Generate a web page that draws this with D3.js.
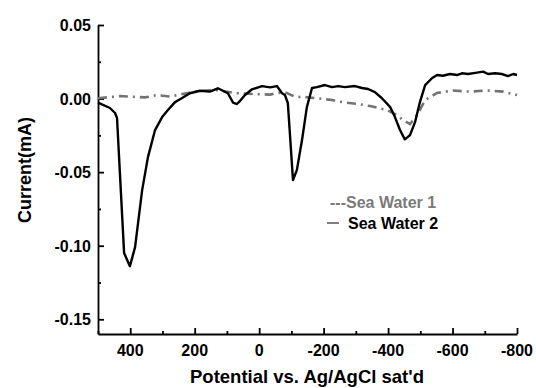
<!DOCTYPE html>
<html>
<head>
<meta charset="utf-8">
<script src="https://cdn.jsdelivr.net/npm/d3@7"></script>
<style>
  html, body { margin: 0; padding: 0; background: #fff; }
  #chart { width: 536px; height: 388px; }
  text { font-family: "Liberation Sans", Arial, sans-serif; font-weight: bold; }
</style>
</head>
<body>
<div id="chart"></div>
<script>
// Sea Water 1 (gray dash-dot): potential (mV) and current (mA)
const sw1Potential = [500, 432, 354, 317, 277, 224, 184, 131, 75, 19, -34, -49, -80, -111, -142, -183, -226, -266, -307, -344, -397, -428, -446, -468, -490, -515, -552, -601, -654, -707, -757, -800];
const sw1Current = [0.0002, 0.0017, 0.0008, 0.0024, 0.0014, 0.0036, 0.0053, 0.0058, 0.0038, 0.0031, 0.0027, 0.0036, 0.0044, 0.0012, 0.0010, 0.0001, -0.0010, -0.0027, -0.0037, -0.0051, -0.0078, -0.0112, -0.0146, -0.0173, -0.0112, -0.0010, 0.0038, 0.0055, 0.0047, 0.0055, 0.0047, 0.0024];

// Sea Water 2 (black solid)
const sw2Potential = [500, 463, 447, 441, 419, 401, 385, 363, 345, 323, 301, 283, 261, 239, 215, 184, 153, 128, 97, 81, 69, 59, 44, 22, -9, -34, -55, -71, -80, -89, -105, -117, -133, -148, -164, -179, -204, -226, -245, -266, -297, -319, -338, -359, -381, -406, -421, -437, -452, -468, -484, -499, -515, -536, -552, -570, -592, -614, -629, -648, -676, -695, -710, -732, -753, -772, -788, -800];
const sw2Current = [-0.0028, -0.0064, -0.0098, -0.0132, -0.105, -0.1139, -0.101, -0.0622, -0.0398, -0.0214, -0.0126, -0.0078, -0.0024, 0.0004, 0.0036, 0.0053, 0.0047, 0.0070, 0.0036, -0.0028, -0.0037, -0.0015, 0.0024, 0.0063, 0.0085, 0.0076, 0.0085, 0.0036, 0.0024, -0.0030, -0.0554, -0.0486, -0.0282, -0.0058, 0.0072, 0.0078, 0.0092, 0.0078, 0.0085, 0.0078, 0.0085, 0.0072, 0.0065, 0.0044, 0.0002, -0.0056, -0.0124, -0.0214, -0.0277, -0.0248, -0.0158, -0.0022, 0.0092, 0.0138, 0.0160, 0.0155, 0.0167, 0.0160, 0.0172, 0.0167, 0.0176, 0.0183, 0.0167, 0.0172, 0.0167, 0.0153, 0.0167, 0.0160];

const xMajorTicks = [400, 200, 0, -200, -400, -600, -800];
const xMinorTicks = [500, 300, 100, -100, -300, -500, -700];
const yMajorTicks = [0.05, 0.00, -0.05, -0.10, -0.15];
const yMinorTicks = [0.025, -0.025, -0.075, -0.125];

const seriesNames = ["---Sea Water 1", "Sea Water 2"];

const width = 536, height = 388;
const svg = d3.select("#chart").append("svg").attr("width", width).attr("height", height);

const x = d3.scaleLinear().domain([500, -800]).range([98, 517]);
const y = d3.scaleLinear().domain([-0.16, 0.05]).range([334, 25]);

// axes (ticks point inward)
const xAxis = svg.append("g").attr("transform", `translate(0,${y(-0.16)})`);
xAxis.call(d3.axisTop(x).tickValues(xMinorTicks).tickSize(3).tickFormat(""));
xAxis.call(g => g.select(".domain").remove());
svg.append("g").attr("transform", `translate(0,${y(-0.16)})`)
  .call(d3.axisTop(x).tickValues(xMajorTicks).tickSize(6).tickSizeOuter(0).tickFormat(""));

svg.append("g").attr("transform", `translate(0,${y(-0.16)})`)
  .selectAll("text").data(xMajorTicks).join("text")
  .attr("x", d => x(d)).attr("y", 22)
  .attr("text-anchor", "middle").attr("font-size", 16)
  .text(d => String(d));

const yAxisMinor = svg.append("g").attr("transform", `translate(${x(500)},0)`)
  .call(d3.axisRight(y).tickValues(yMinorTicks).tickSize(3).tickFormat(""));
yAxisMinor.select(".domain").remove();
svg.append("g").attr("transform", `translate(${x(500)},0)`)
  .call(d3.axisRight(y).tickValues(yMajorTicks).tickSize(6).tickSizeOuter(0).tickFormat(""));

svg.append("g").selectAll("text").data(yMajorTicks).join("text")
  .attr("x", 91).attr("y", d => y(d) + 6)
  .attr("text-anchor", "end").attr("font-size", 16)
  .text(d => d.toFixed(2));

svg.selectAll(".domain, .tick line").attr("stroke", "#000").attr("stroke-width", 1.8);

// axis titles
svg.append("text")
  .attr("x", 307).attr("y", 383)
  .attr("text-anchor", "middle").attr("font-size", 18.5)
  .text("Potential vs. Ag/AgCl sat'd");

svg.append("text")
  .attr("transform", "translate(31,170) rotate(-90)")
  .attr("text-anchor", "middle").attr("font-size", 18)
  .text("Current(mA)");

// lines
const line = d3.line().x(d => x(d[0])).y(d => y(d[1]));

svg.append("path")
  .datum(d3.zip(sw1Potential, sw1Current))
  .attr("d", line)
  .attr("fill", "none")
  .attr("stroke", "#737373")
  .attr("stroke-width", 2.6)
  .attr("stroke-dasharray", "9,5,2,5");

svg.append("path")
  .datum(d3.zip(sw2Potential, sw2Current))
  .attr("d", line)
  .attr("fill", "none")
  .attr("stroke", "#000")
  .attr("stroke-width", 2.4)
  .attr("stroke-linejoin", "round");

// legend
svg.append("text")
  .attr("x", 330).attr("y", 208)
  .attr("font-size", 16).attr("fill", "#7a7a7a")
  .text(seriesNames[0]);

svg.append("line")
  .attr("x1", 327).attr("x2", 339).attr("y1", 223).attr("y2", 223)
  .attr("stroke", "#000").attr("stroke-width", 1);

svg.append("text")
  .attr("x", 348).attr("y", 229)
  .attr("font-size", 16).attr("fill", "#000")
  .text(seriesNames[1]);
</script>
</body>
</html>
